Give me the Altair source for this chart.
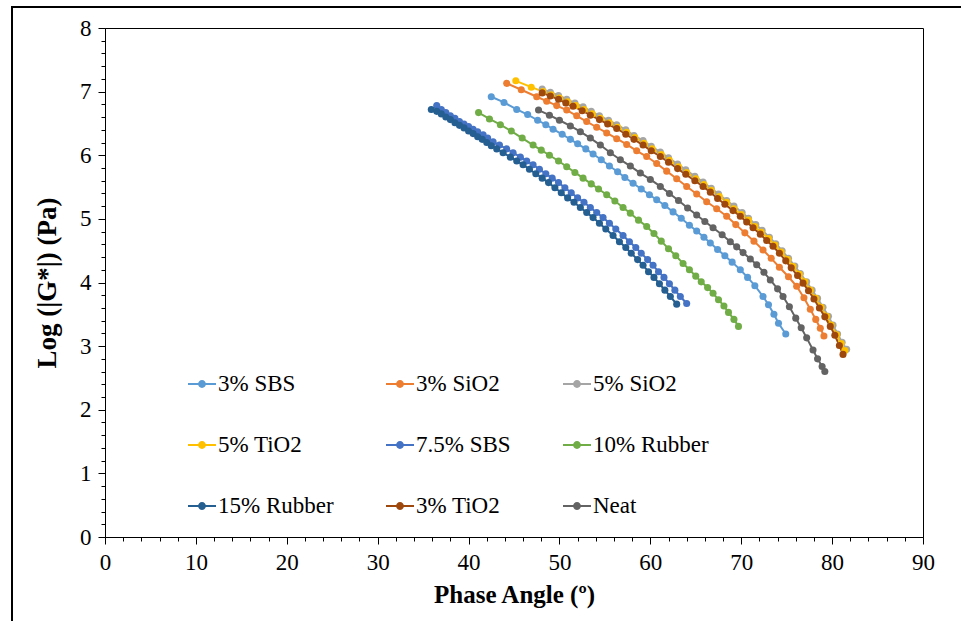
import altair as alt
import pandas as pd

series_names = ["3% SBS", "3% SiO2", "5% SiO2", "5% TiO2", "7.5% SBS",
                "10% Rubber", "15% Rubber", "3% TiO2", "Neat"]
series_colors = ["#5B9BD5", "#ED7D31", "#A5A5A5", "#FFC000", "#4472C4",
                 "#70AD47", "#255E91", "#9E480E", "#636363"]

sbs3_x = [42.5, 43.9, 45.3, 46.5, 47.6, 48.5, 49.3, 50.3, 51.2, 52.0, 52.9, 53.7, 54.6, 55.5, 56.4,
          57.2, 58.1, 59.0, 59.9, 60.7, 61.6, 62.5, 63.4, 64.3, 65.1, 65.9, 66.6, 67.4, 68.2, 69.0,
          69.9, 70.7, 71.5, 72.4, 73.0, 73.6, 74.1, 74.9]
sbs3_y = [6.92, 6.83, 6.72, 6.64, 6.55, 6.48, 6.41, 6.33, 6.25, 6.18, 6.10, 6.02, 5.93, 5.83, 5.74,
          5.65, 5.56, 5.47, 5.38, 5.30, 5.21, 5.11, 5.01, 4.90, 4.81, 4.71, 4.62, 4.52, 4.42, 4.32,
          4.20, 4.08, 3.95, 3.78, 3.65, 3.50, 3.36, 3.19]

sio3_x = [44.2, 45.8, 47.5, 48.6, 49.7, 50.8, 51.9, 53.0, 54.1, 55.2, 56.3, 57.4, 58.5, 59.6, 60.7,
          61.8, 62.9, 64.0, 65.1, 66.2, 67.3, 68.4, 69.4, 70.4, 71.4, 72.4, 73.3, 74.2, 75.2, 76.1,
          76.9, 77.6, 78.2, 78.7, 79.1]
sio3_y = [7.13, 7.03, 6.92, 6.85, 6.78, 6.71, 6.62, 6.53, 6.44, 6.35, 6.26, 6.17, 6.07, 5.98, 5.87,
          5.75, 5.63, 5.51, 5.39, 5.27, 5.16, 5.04, 4.91, 4.78, 4.65, 4.51, 4.38, 4.24, 4.09, 3.94,
          3.76, 3.58, 3.42, 3.28, 3.16]

sio5_x = [48.1, 49.0, 49.9, 50.8, 51.7, 52.6, 53.5, 54.4, 55.4, 56.3, 57.3, 58.2, 59.2, 60.1, 61.1,
          62.0, 63.0, 63.9, 64.9, 65.8, 66.7, 67.5, 68.4, 69.2, 70.1, 70.8, 71.6, 72.3, 73.1, 73.8,
          74.5, 75.2, 75.9, 76.5, 77.2, 77.8, 78.4, 79.0, 79.6, 80.1, 80.6, 81.1, 81.6]
sio5_y = [7.04, 6.99, 6.94, 6.88, 6.82, 6.76, 6.69, 6.62, 6.55, 6.48, 6.40, 6.31, 6.23, 6.14, 6.05,
          5.96, 5.86, 5.77, 5.67, 5.58, 5.48, 5.39, 5.29, 5.20, 5.10, 5.01, 4.91, 4.82, 4.71, 4.61,
          4.50, 4.38, 4.26, 4.14, 4.01, 3.88, 3.75, 3.61, 3.47, 3.33, 3.19, 3.06, 2.95]

tio5_x = [45.2, 46.9, 48.2, 49.1, 50.0, 50.9, 51.8, 52.7, 53.6, 54.5, 55.5, 56.4, 57.4, 58.3, 59.3,
          60.2, 61.2, 62.1, 63.1, 64.0, 65.0, 65.9, 66.7, 67.6, 68.4, 69.2, 70.0, 70.8, 71.5, 72.2,
          73.0, 73.7, 74.4, 75.1, 75.7, 76.4, 77.0, 77.6, 78.2, 78.8, 79.4, 79.9, 80.5, 81.0, 81.4]
tio5_y = [7.17, 7.07, 7.00, 6.95, 6.90, 6.84, 6.78, 6.72, 6.65, 6.58, 6.51, 6.44, 6.36, 6.28, 6.19,
          6.10, 6.01, 5.92, 5.82, 5.73, 5.63, 5.54, 5.45, 5.35, 5.26, 5.16, 5.07, 4.98, 4.88, 4.79,
          4.69, 4.59, 4.48, 4.36, 4.25, 4.13, 4.01, 3.88, 3.75, 3.61, 3.47, 3.33, 3.18, 3.04, 2.93]

sbs75_x = [36.5, 37.0, 37.5, 38.0, 38.5, 39.0, 39.5, 40.0, 40.5, 41.0, 41.6, 42.1, 42.7, 43.4, 44.2,
           44.9, 45.7, 46.4, 47.1, 47.8, 48.5, 49.2, 49.9, 50.6, 51.3, 52.0, 52.7, 53.4, 54.1, 54.8,
           55.5, 56.2, 57.0, 57.7, 58.4, 59.0, 59.7, 60.3, 60.9, 61.5, 62.1, 62.7, 63.3, 64.0]
sbs75_y = [6.78, 6.72, 6.67, 6.62, 6.58, 6.53, 6.49, 6.45, 6.41, 6.37, 6.32, 6.27, 6.21, 6.16, 6.10,
           6.04, 5.97, 5.91, 5.85, 5.78, 5.71, 5.64, 5.57, 5.49, 5.41, 5.33, 5.26, 5.18, 5.10, 5.02,
           4.93, 4.84, 4.74, 4.64, 4.55, 4.46, 4.36, 4.27, 4.17, 4.08, 3.98, 3.88, 3.78, 3.67]

rub10_x = [41.1, 42.3, 43.5, 44.7, 45.9, 47.1, 48.0, 48.9, 49.9, 50.8, 51.7, 52.6, 53.5, 54.3, 55.2,
           56.1, 57.0, 57.8, 58.7, 59.6, 60.4, 61.2, 62.0, 62.8, 63.6, 64.3, 65.0, 65.6, 66.3, 66.9,
           67.5, 68.1, 68.6, 69.2, 69.7]
rub10_y = [6.67, 6.57, 6.48, 6.38, 6.27, 6.16, 6.08, 6.00, 5.91, 5.82, 5.73, 5.64, 5.55, 5.47, 5.38,
           5.28, 5.18, 5.09, 4.98, 4.88, 4.77, 4.65, 4.53, 4.42, 4.30, 4.20, 4.10, 4.01, 3.92, 3.83,
           3.73, 3.63, 3.53, 3.42, 3.31]

rub15_x = [35.9, 36.5, 37.0, 37.5, 38.0, 38.5, 39.0, 39.5, 40.0, 40.5, 41.0, 41.5, 42.0, 42.5, 43.1,
           43.8, 44.6, 45.3, 46.0, 46.7, 47.4, 48.1, 48.8, 49.5, 50.2, 50.9, 51.6, 52.3, 53.0, 53.7,
           54.4, 55.1, 55.9, 56.6, 57.3, 57.9, 58.6, 59.2, 59.8, 60.4, 61.0, 61.6, 62.2, 62.9]
rub15_y = [6.72, 6.69, 6.65, 6.60, 6.56, 6.51, 6.47, 6.43, 6.38, 6.34, 6.29, 6.25, 6.20, 6.15, 6.10,
           6.04, 5.97, 5.91, 5.85, 5.78, 5.71, 5.64, 5.57, 5.49, 5.41, 5.33, 5.26, 5.18, 5.10, 5.02,
           4.93, 4.84, 4.74, 4.64, 4.55, 4.46, 4.36, 4.27, 4.17, 4.08, 3.98, 3.88, 3.78, 3.66]

tio3_x = [48.1, 49.0, 49.9, 50.7, 51.5, 52.5, 53.4, 54.4, 55.3, 56.3, 57.3, 58.2, 59.2, 60.1, 61.1,
          62.0, 63.0, 63.9, 64.9, 65.8, 66.6, 67.4, 68.2, 69.1, 69.9, 70.6, 71.3, 72.1, 72.8, 73.5,
          74.2, 74.9, 75.5, 76.2, 76.8, 77.4, 78.0, 78.6, 79.2, 79.8, 80.3, 80.8, 81.2]
tio3_y = [6.98, 6.93, 6.88, 6.82, 6.77, 6.70, 6.63, 6.56, 6.49, 6.42, 6.33, 6.25, 6.16, 6.07, 5.98,
          5.89, 5.79, 5.70, 5.60, 5.51, 5.42, 5.32, 5.23, 5.13, 5.04, 4.95, 4.86, 4.76, 4.66, 4.57,
          4.46, 4.34, 4.23, 4.11, 3.99, 3.87, 3.74, 3.60, 3.46, 3.31, 3.17, 3.01, 2.87]

neat_x = [47.7, 48.9, 50.0, 51.2, 52.3, 53.4, 54.5, 55.6, 56.7, 57.8, 58.9, 60.0, 61.1, 62.1, 63.1,
          64.1, 65.1, 66.0, 66.9, 67.9, 68.8, 69.5, 70.2, 71.0, 71.7, 72.5, 73.2, 74.0, 74.6, 75.3,
          76.0, 76.6, 77.2, 77.9, 78.4, 78.9, 79.2]
neat_y = [6.71, 6.63, 6.55, 6.46, 6.37, 6.27, 6.16, 6.04, 5.93, 5.83, 5.72, 5.62, 5.51, 5.40, 5.29,
          5.17, 5.06, 4.96, 4.86, 4.75, 4.64, 4.56, 4.47, 4.37, 4.28, 4.16, 4.04, 3.90, 3.78, 3.62,
          3.44, 3.29, 3.13, 2.94, 2.80, 2.68, 2.60]

series_data = [(sbs3_x, sbs3_y), (sio3_x, sio3_y), (sio5_x, sio5_y), (tio5_x, tio5_y),
               (sbs75_x, sbs75_y), (rub10_x, rub10_y), (rub15_x, rub15_y), (tio3_x, tio3_y),
               (neat_x, neat_y)]

x_tick_values = list(range(0, 91, 2))
y_tick_values = [round(i * 0.2, 1) for i in range(41)]

rows = []
for idx, (name, (xs, ys)) in enumerate(zip(series_names, series_data)):
    for k, (xv, yv) in enumerate(zip(xs, ys)):
        rows.append({"series": name, "angle": xv, "logG": yv, "order": idx * 1000 + k})
df = pd.DataFrame(rows)

FONT = "Liberation Serif"

x_scale = alt.Scale(domain=[0, 90], nice=False)
y_scale = alt.Scale(domain=[0, 8], nice=False)

x_major = "datum.value % 10 === 0"
y_major = "abs(datum.value - round(datum.value)) < 0.001"

x_axis = alt.Axis(title="Phase Angle (º)", values=x_tick_values, tickCount=200,
                  labelExpr=f"{x_major} ? format(datum.value, 'd') : ''",
                  tickSize={"condition": {"test": x_major, "value": 7}, "value": 4},
                  labelPadding=7, titlePadding=8, labelOverlap=False, labelFlush=False,
                  grid=False)
y_axis = alt.Axis(title="Log (|G*|) (Pa)", values=y_tick_values, tickCount=200,
                  labelExpr=f"{y_major} ? format(datum.value, 'd') : ''",
                  tickSize={"condition": {"test": y_major, "value": 7}, "value": 4},
                  labelPadding=7, titlePadding=18, titleFontSize=27, labelOverlap=False,
                  labelFlush=False, grid=False)

# fill scale (points + legend) and stroke scale (lines) carry the same colours;
# the stroke scale lists them in reverse so that its (hidden) legend stays separate.
fill_scale = alt.Scale(domain=series_names, range=series_colors)
stroke_scale = alt.Scale(domain=series_names[::-1], range=series_colors[::-1])

legend_symbol = ("M-1,-0.07L1,-0.07L1,0.07L-1,0.07Z"
                 "M0.28,0A0.28,0.28,0,1,1,-0.28,0A0.28,0.28,0,1,1,0.28,0Z")
legend = alt.Legend(title=None, orient="none", legendX=83, legendY=342, columns=3,
                    direction="horizontal",
                    symbolType=legend_symbol, symbolSize=784, symbolStrokeWidth=0,
                    labelFont=FONT, labelFontSize=23, labelColor="black", labelOffset=2,
                    rowPadding=35, columnPadding=52, gridAlign="each", labelLimit=400)

base = alt.Chart(df)

lines = base.mark_line(strokeWidth=2).encode(
    x=alt.X("angle:Q", scale=x_scale, axis=x_axis),
    y=alt.Y("logG:Q", scale=y_scale, axis=y_axis),
    stroke=alt.Stroke("series:N", scale=stroke_scale, legend=None),
    order="order:Q",
)

points = base.mark_point(filled=True, size=50, opacity=1).encode(
    x=alt.X("angle:Q", scale=x_scale, axis=x_axis),
    y=alt.Y("logG:Q", scale=y_scale, axis=y_axis),
    fill=alt.Fill("series:N", scale=fill_scale, legend=legend),
    order="order:Q",
)

frame = alt.Chart(pd.DataFrame({"f": [0]})).mark_rect(
    fillOpacity=0, stroke="black", strokeWidth=2
).encode(x=alt.value(-93), x2=alt.value(1000), y=alt.value(-21), y2=alt.value(800))

chart = alt.layer(lines, points, frame).properties(
    width=818, height=509,
    background="white",
    autosize=alt.AutoSizeParams(type="none"),
    padding={"left": 105, "top": 28, "right": 38, "bottom": 84},
).configure_view(
    stroke="black", strokeWidth=1
).configure_axis(
    labelFont=FONT, labelFontSize=23, labelColor="black",
    titleFont=FONT, titleFontSize=25, titleFontWeight="bold", titleColor="black",
    domainColor="black", domainWidth=1, tickColor="black", tickWidth=1,
)

chart.save("out.html", embed_options={"renderer": "svg", "actions": False})
